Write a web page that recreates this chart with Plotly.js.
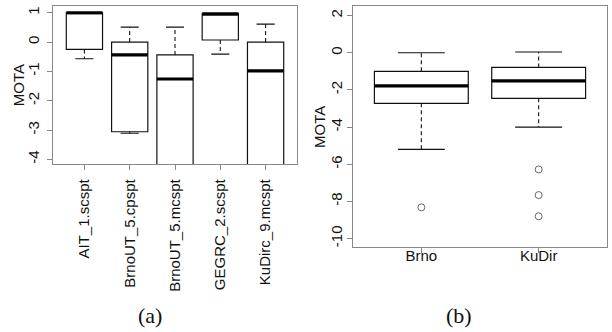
<!DOCTYPE html>
<html>
<head>
<meta charset="utf-8">
<script src="https://cdn.plot.ly/plotly-3.0.1.min.js"></script>
<style>html,body{margin:0;padding:0;background:#fff;}#chart{width:612px;height:332px;}</style>
</head>
<body>
<div id="chart"></div>
<script>
// Panel (a)
const leftCats = ['AIT_1.scspt', 'BrnoUT_5.cpspt', 'BrnoUT_5.mcspt', 'GEGRC_2.scspt', 'KuDirc_9.mcspt'];
const leftQ1 = [-0.25, -3.06, -5.0, 0.07, -5.0];
const leftMedian = [1.0, -0.44, -1.26, 0.96, -0.98];
const leftQ3 = [1.0, 0.0, -0.44, 0.96, 0.0];
const leftLower = [-0.57, -3.11, -6.0, -0.41, -6.0];
const leftUpper = [1.0, 0.51, 0.51, 0.96, 0.61];
const leftTicks = [-4, -3, -2, -1, 0, 1];

// Panel (b)
const rightCats = ['Brno', 'KuDir'];
const rightQ1 = [-2.72, -2.45];
const rightMedian = [-1.78, -1.51];
const rightQ3 = [-1.0, -0.79];
const rightLower = [-5.2, -4.0];
const rightUpper = [0.0, 0.04];
const outlierCats = ['Brno', 'KuDir', 'KuDir', 'KuDir'];
const outlierValues = [-8.32, -6.28, -7.66, -8.8];
const rightTicks = [-10, -8, -6, -4, -2, 0, 2];

const yTitle = 'MOTA';
const captions = ['(a)', '(b)'];

const BOXW = 0.8, CAPW = 0.4;

function panelTraces(cats, q1, med, q3, lo, hi, xa, ya) {
  const pos = cats.map((c, i) => i + 1);
  const traces = [];
  traces.push({
    type: 'box', x: pos, q1: q1, median: med, q3: q3,
    lowerfence: q1, upperfence: q3, width: BOXW, whiskerwidth: 0,
    boxpoints: false, fillcolor: '#ffffff', line: {color: '#111', width: 1.2},
    xaxis: xa, yaxis: ya, showlegend: false, hoverinfo: 'skip'
  });
  const wx = [], wy = [], cx = [], cy = [], mx = [], my = [];
  pos.forEach((p, i) => {
    wx.push(p, p, null, p, p, null);
    wy.push(q3[i], hi[i], null, q1[i], lo[i], null);
    cx.push(p - CAPW / 2, p + CAPW / 2, null, p - CAPW / 2, p + CAPW / 2, null);
    cy.push(hi[i], hi[i], null, lo[i], lo[i], null);
    mx.push(p - BOXW / 2, p + BOXW / 2, null);
    my.push(med[i], med[i], null);
  });
  traces.push({type: 'scatter', mode: 'lines', x: wx, y: wy, line: {color: '#111', width: 1.1, dash: '4px,3px'},
    xaxis: xa, yaxis: ya, showlegend: false, hoverinfo: 'skip'});
  traces.push({type: 'scatter', mode: 'lines', x: cx, y: cy, line: {color: '#111', width: 1.2},
    xaxis: xa, yaxis: ya, showlegend: false, hoverinfo: 'skip'});
  traces.push({type: 'scatter', mode: 'lines', x: mx, y: my, line: {color: '#000', width: 3.2},
    xaxis: xa, yaxis: ya, showlegend: false, hoverinfo: 'skip'});
  return traces;
}

const data = [].concat(
  panelTraces(leftCats, leftQ1, leftMedian, leftQ3, leftLower, leftUpper, 'x', 'y'),
  panelTraces(rightCats, rightQ1, rightMedian, rightQ3, rightLower, rightUpper, 'x2', 'y2'),
  [{
    type: 'scatter', mode: 'markers',
    x: outlierCats.map(c => rightCats.indexOf(c) + 1), y: outlierValues,
    marker: {symbol: 'circle-open', size: 7, color: '#666', line: {width: 1, color: '#666'}},
    xaxis: 'x2', yaxis: 'y2', showlegend: false, hoverinfo: 'skip'
  }]
);

const SANS = 'Liberation Sans, Arial, sans-serif';
const tickFont = {family: SANS, size: 15, color: '#111'};
const axisCommon = {
  showline: true, mirror: true, linecolor: '#888', linewidth: 1,
  ticks: 'outside', ticklen: 5, tickcolor: '#888', tickwidth: 1,
  showgrid: false, zeroline: false, tickfont: tickFont, fixedrange: true
};

const layout = {
  width: 612, height: 332,
  margin: {l: 0, r: 0, t: 0, b: 0, pad: 0},
  paper_bgcolor: '#fff', plot_bgcolor: '#fff',
  showlegend: false,
  xaxis: Object.assign({}, axisCommon, {
    domain: [52.7 / 612, 297.3 / 612], range: [0.3, 5.7],
    tickmode: 'array', tickvals: leftCats.map((c, i) => i + 1), ticktext: leftCats,
    tickangle: -90, ticklabelstandoff: 3
  }),
  yaxis: Object.assign({}, axisCommon, {
    domain: [1 - 164.3 / 332, 1 - 6.3 / 332], range: [-4.17, 1.22],
    tickmode: 'array', tickvals: leftTicks, ticktext: leftTicks.map(String),
    tickangle: -90, ticklabelstandoff: 2
  }),
  xaxis2: Object.assign({}, axisCommon, {
    domain: [353.3 / 612, 606.7 / 612], range: [0.42, 2.58], anchor: 'y2',
    tickmode: 'array', tickvals: rightCats.map((c, i) => i + 1), ticktext: rightCats,
    ticklabelstandoff: -10
  }),
  yaxis2: Object.assign({}, axisCommon, {
    domain: [1 - 247.3 / 332, 1 - 6.3 / 332], range: [-10.47, 2.5], anchor: 'x2',
    tickmode: 'array', tickvals: rightTicks, ticktext: rightTicks.map(String),
    tickangle: -90, ticklabelstandoff: -1
  }),
  annotations: [
    {text: yTitle, xref: 'paper', yref: 'paper', x: 18.7 / 612, y: 1 - 85.5 / 332, textangle: -90,
     showarrow: false, xanchor: 'center', yanchor: 'middle', font: {family: SANS, size: 15, color: '#111'}},
    {text: yTitle, xref: 'paper', yref: 'paper', x: 319 / 612, y: 1 - 127 / 332, textangle: -90,
     showarrow: false, xanchor: 'center', yanchor: 'middle', font: {family: SANS, size: 15, color: '#111'}},
    {text: captions[0], xref: 'paper', yref: 'paper', x: 150 / 612, y: 1 - 315 / 332, showarrow: false,
     xanchor: 'center', yanchor: 'middle', font: {family: 'Liberation Serif, serif', size: 22, color: '#111'}},
    {text: captions[1], xref: 'paper', yref: 'paper', x: 459 / 612, y: 1 - 315 / 332, showarrow: false,
     xanchor: 'center', yanchor: 'middle', font: {family: 'Liberation Serif, serif', size: 22, color: '#111'}}
  ]
};

Plotly.newPlot('chart', data, layout, {staticPlot: true, displayModeBar: false});
</script>
</body>
</html>
